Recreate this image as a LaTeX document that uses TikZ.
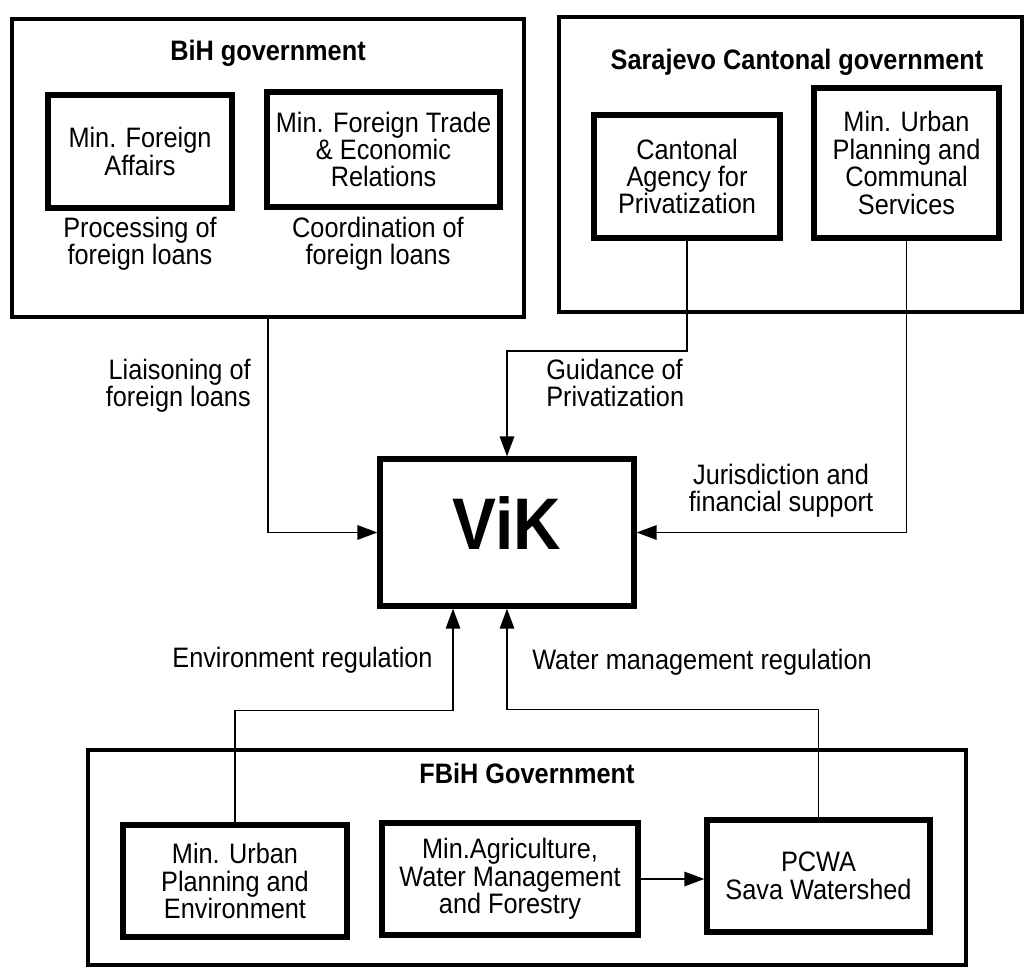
\documentclass[tikz,border=0pt]{standalone}
\usepackage{fontspec}
\setmainfont{Liberation Sans}[FakeStretch=0.9]
\usetikzlibrary{arrows.meta,positioning}
\newcommand{\txt}{\fontsize{20}{19.5}\selectfont}
\tikzset{
  govbox/.style={draw,line width=1mm,inner sep=0pt},
  minbox/.style={draw,line width=1.3mm,align=center,inner sep=2pt,font=\txt},
  govtitle/.style={font=\txt\bfseries,inner sep=0pt},
  note/.style={font=\txt,align=center,inner sep=0pt},
  flow/.style={line width=0.45mm,-{Triangle[length=5mm,width=3.6mm]}}
}

\begin{document}
\begin{tikzpicture}[x=0.25mm,y=-0.25mm]
  \useasboundingbox (0,0) rectangle (1024,968);
  % government frames
  \node[govbox,minimum width=128mm,minimum height=74.5mm] (bih) at (268,168) {};
  \node[govbox,minimum width=115.75mm,minimum height=73.75mm] (canton) at (790.5,164.5) {};
  \node[govbox,minimum width=219.5mm,minimum height=53.75mm] (fbih) at (527,857.5) {};
  \node[govtitle] (bihtitle) at (268,53) {BiH government};
  \node[govtitle] (cantontitle) at (797,62) {Sarajevo Cantonal government};
  \node[govtitle] (fbihtitle) at (527,773) {FBiH Government};
  % BiH ministries
  \node[minbox,minimum width=46mm,minimum height=28.25mm] (mfa) at (140,151.5)
       {Min. Foreign\\Affairs};
  \node[minbox,minimum width=58.25mm,minimum height=28.75mm] (mft) at (383.5,149.5)
       {Min. Foreign Trade\\\& Economic\\Relations};
  \node[note] (mfanote) at (140,244) {Processing of\\foreign loans};
  \node[note] (mftnote) at (378,244) {Coordination of\\foreign loans};
  % cantonal bodies
  \node[minbox,minimum width=46.5mm,minimum height=30.75mm] (agency) at (687,176.5)
       {Cantonal\\Agency for\\Privatization};
  \node[minbox,minimum width=46.25mm,minimum height=37.5mm] (mupc) at (906.5,163)
       {Min. Urban\\Planning and\\Communal\\Services};
  % FBiH bodies
  \node[minbox,minimum width=56mm,minimum height=28mm] (mupe) at (235,881)
       {Min. Urban\\Planning and\\Environment};
  \node[minbox,minimum width=64mm,minimum height=28mm] (magr) at (510,879)
       {Min.Agriculture,\\Water Management\\and Forestry};
  \node[minbox,minimum width=55.75mm,minimum height=28mm] (pcwa) at (818.5,876)
       {PCWA\\Sava Watershed};
  % the utility
  \node[draw,line width=1.3mm,minimum width=63.5mm,minimum height=36.75mm,text depth=4.5mm,
        font=\fontsize{52}{52}\selectfont\bfseries] (vik) at (507,532.5) {ViK};
  % connectors
  \draw[flow] (bih.south) |- (vik.west);
  \draw[flow] (agency.south) -- ++(0,110) -| (vik.north);
  \draw[flow] (mupc.south) |- (vik.east);
  \draw[flow] (mupe.north) -- ++(0,-112) -| ([xshift=-13.5mm]vik.south);
  \draw[flow] (pcwa.north) -- ++(0,-108) -| (vik.south);
  \draw[flow] (magr.east) -- (magr.east -| pcwa.west);
  % connector labels
  \node[note,anchor=east,align=right] (liaison) at (251,386) {Liaisoning of\\foreign loans};
  \node[note,anchor=west,align=left] (guidance) at (546,383) {Guidance of\\Privatization};
  \node[note] (jurisdiction) at (781,491) {Jurisdiction and\\financial support};
  \node[note] (envreg) at (302.5,660) {Environment regulation};
  \node[note] (watreg) at (702,662) {Water management regulation};
\end{tikzpicture}
\end{document}
